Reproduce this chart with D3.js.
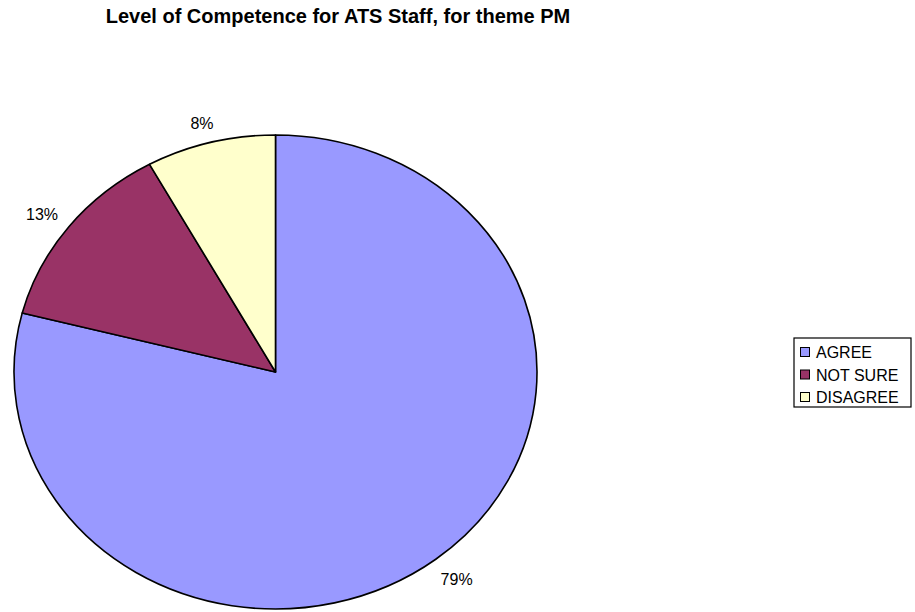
<!DOCTYPE html>
<html>
<head>
<meta charset="utf-8">
<script src="https://cdn.jsdelivr.net/npm/d3@7"></script>
<style>
  html, body { margin: 0; padding: 0; background: #ffffff; }
  svg { display: block; font-family: "Liberation Sans", Arial, sans-serif; }
</style>
</head>
<body>
<svg id="chart" width="915" height="612"></svg>
<script>
// Survey answers for the PM theme
const categories = ["AGREE", "NOT SURE", "DISAGREE"];
const percents = [79, 13, 8];
const colors = ["#9999FF", "#993366", "#FFFFCC"];
const titleText = "Level of Competence for ATS Staff, for theme PM";

const svg = d3.select("#chart");

// Pie geometry (drawn as a circle, stretched into an ellipse)
const cx = 275.5, cy = 372, rx = 261.5, ry = 237;

svg.append("text")
  .attr("x", 338)
  .attr("y", 23)
  .attr("text-anchor", "middle")
  .attr("font-size", 20)
  .attr("font-weight", "bold")
  .attr("fill", "#000")
  .text(titleText);

const data = categories.map((c, i) => ({ cat: c, value: percents[i], color: colors[i] }));

const pie = d3.pie().sort(null).value(d => d.value).startAngle(0).endAngle(2 * Math.PI);
const arcs = pie(data);
const arc = d3.arc().innerRadius(0).outerRadius(rx);

const g = svg.append("g")
  .attr("transform", `translate(${cx},${cy}) scale(1,${ry / rx})`);

g.selectAll("path.slice")
  .data(arcs)
  .join("path")
  .attr("class", "slice")
  .attr("d", arc)
  .attr("fill", d => d.data.color)
  .attr("stroke", "#000")
  .attr("stroke-width", 1.6)
  .attr("stroke-linejoin", "round")
  .attr("vector-effect", "non-scaling-stroke");

// Percentage labels just outside the rim
const kx = 1.13, ky = 1.11;
svg.selectAll("text.pct")
  .data(arcs)
  .join("text")
  .attr("class", "pct")
  .attr("x", d => {
    const a = (d.startAngle + d.endAngle) / 2;
    return cx + Math.sin(a) * rx * kx;
  })
  .attr("y", d => {
    const a = (d.startAngle + d.endAngle) / 2;
    return cy - Math.cos(a) * ry * ky + 5.5 + Math.max(0, Math.cos(a)) * 6;
  })
  .attr("text-anchor", "middle")
  .attr("font-size", 16)
  .attr("fill", "#000")
  .text(d => d3.format(".0f")(d.data.value) + "%");

// Legend
const lg = svg.append("g").attr("transform", "translate(794,338)");
lg.append("rect")
  .attr("width", 117)
  .attr("height", 69)
  .attr("fill", "#fff")
  .attr("stroke", "#000")
  .attr("stroke-width", 1.2);

const items = lg.selectAll("g.item")
  .data(data)
  .join("g")
  .attr("class", "item")
  .attr("transform", (d, i) => `translate(0,${i * 22.5})`);

items.append("rect")
  .attr("x", 6.5)
  .attr("y", 9.5)
  .attr("width", 9)
  .attr("height", 9)
  .attr("fill", d => d.color)
  .attr("stroke", "#000")
  .attr("stroke-width", 1);

items.append("text")
  .attr("x", 22)
  .attr("y", 20)
  .attr("font-size", 16)
  .attr("fill", "#000")
  .text(d => d.cat);
</script>
</body>
</html>
